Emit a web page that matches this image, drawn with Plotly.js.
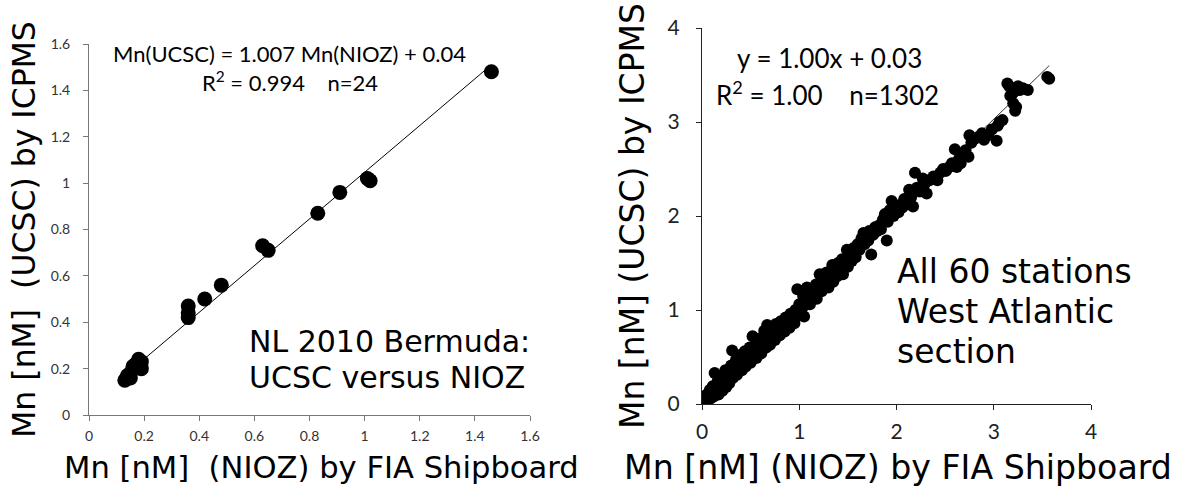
<!DOCTYPE html>
<html>
<head>
<meta charset="utf-8">
<script src="https://cdn.plot.ly/plotly-3.0.1.min.js"></script>
<style>html,body{margin:0;padding:0;background:#fff;}#chart{width:1177px;height:493px;}</style>
</head>
<body>
<div id="chart"></div>
<script>
// ---------- Left panel: NL 2010 Bermuda (n=24) ----------
const leftX = [1.46, 1.01, 1.02, 0.91, 0.83, 0.63, 0.65, 0.48, 0.42, 0.36, 0.36, 0.36,
               0.13, 0.14, 0.14, 0.15, 0.15, 0.16, 0.16, 0.17, 0.18, 0.19, 0.19, 0.18];
const leftY = [1.48, 1.02, 1.01, 0.96, 0.87, 0.73, 0.71, 0.56, 0.50, 0.47, 0.44, 0.42,
               0.15, 0.16, 0.17, 0.18, 0.16, 0.20, 0.21, 0.22, 0.21, 0.23, 0.20, 0.24];
const leftSlope = 1.007, leftIntercept = 0.04;
const leftTicks = [0, 0.2, 0.4, 0.6, 0.8, 1, 1.2, 1.4, 1.6];

// ---------- Right panel: all 60 stations West Atlantic (n=1302, traced) ----------
const rightX = [0.02,0.04,0.05,0.06,0.08,0.09,0.11,0.12,0.13,0.14,0.16,0.17,0.19,0.20,0.21,0.23,0.24,0.25,0.27,0.28,
  0.30,0.31,0.32,0.34,0.35,0.36,0.38,0.39,0.41,0.43,0.44,0.45,0.47,0.49,0.50,0.52,0.53,0.55,0.56,0.58,
  0.60,0.61,0.63,0.64,0.66,0.67,0.68,0.70,0.71,0.73,0.75,0.76,0.78,0.80,0.81,0.83,0.85,0.86,0.88,0.90,
  0.91,0.93,0.95,0.96,0.98,0.99,1.00,1.02,1.04,1.05,1.06,1.08,1.09,1.11,1.13,1.15,1.17,1.18,1.20,1.21,
  1.23,1.25,1.27,1.28,1.30,1.32,1.34,1.35,1.37,1.39,1.40,1.42,1.44,1.45,1.47,1.49,1.50,1.52,1.54,1.56,
  1.58,1.60,1.62,1.64,1.66,1.67,1.69,1.71,1.72,1.74,1.76,1.78,1.80,1.82,1.84,1.86,1.88,1.90,1.91,1.93,
  1.95,1.97,1.99,2.02,2.04,2.06,2.08,2.11,2.13,2.15,2.17,2.19,2.21,2.24,2.27,2.29,2.31,2.34,2.38,2.42,
  2.45,2.48,2.51,2.54,2.57,2.60,2.62,2.64,2.66,2.68,2.71,2.74,2.75,2.77,2.80,2.84,2.88,2.90,2.94,2.98,
  3.03,3.04,3.06,3.09,3.14,3.16,3.17,3.19,3.20,3.22,3.23,3.25,3.27,3.30,3.35,3.55,3.57];
const rightY = [0.03,0.02,0.10,0.04,0.15,0.06,0.19,0.08,0.33,0.14,0.24,0.10,0.20,0.28,0.14,0.24,0.36,0.18,0.30,0.22,
  0.41,0.57,0.28,0.38,0.47,0.31,0.42,0.52,0.36,0.47,0.56,0.40,0.52,0.60,0.44,0.72,0.55,0.63,0.49,0.60,
  0.70,0.54,0.66,0.78,0.60,0.84,0.71,0.63,0.80,0.74,0.68,0.85,0.78,0.73,0.88,0.82,0.77,0.92,0.86,0.81,
  0.96,0.91,0.86,1.00,1.22,0.94,1.06,0.99,1.15,0.93,1.05,1.24,1.12,1.06,1.20,1.14,1.27,1.12,1.24,1.38,
  1.20,1.31,1.26,1.40,1.24,1.36,1.48,1.30,1.42,1.36,1.50,1.41,1.54,1.38,1.50,1.64,1.46,1.58,1.52,1.66,
  1.56,1.70,1.64,1.76,1.82,1.70,1.78,1.74,1.84,1.59,1.80,1.88,1.84,1.90,1.86,1.96,2.02,1.74,1.94,2.06,
  2.16,2.00,2.10,2.04,2.12,2.09,2.18,2.14,2.28,2.20,2.10,2.46,2.30,2.26,2.40,2.34,2.24,2.38,2.42,2.38,
  2.46,2.50,2.48,2.52,2.56,2.71,2.52,2.60,2.56,2.66,2.70,2.63,2.86,2.78,2.82,2.84,2.88,2.81,2.86,2.92,
  2.80,2.96,3.00,3.02,3.41,3.38,3.28,3.30,3.20,3.12,3.16,3.38,3.34,3.36,3.34,3.48,3.46];
const rightSlope = 1.00, rightIntercept = 0.03;
const rightTicks = [0, 1, 2, 3, 4];

function fitLine(xs, m, b) {
  const lo = Math.min(...xs), hi = Math.max(...xs);
  return {x: [lo, hi], y: [m * lo + b, m * hi + b]};
}
const lf = fitLine(leftX, leftSlope, leftIntercept);
const rf = fitLine(rightX, rightSlope, rightIntercept);

const data = [
  {x: lf.x, y: lf.y, type: 'scatter', mode: 'lines', line: {color: '#000', width: 1}, xaxis: 'x', yaxis: 'y', hoverinfo: 'skip'},
  {x: leftX, y: leftY, type: 'scatter', mode: 'markers', marker: {color: '#000', size: 15}, xaxis: 'x', yaxis: 'y'},
  {x: rf.x, y: rf.y, type: 'scatter', mode: 'lines', line: {color: '#333', width: 1}, xaxis: 'x2', yaxis: 'y2', hoverinfo: 'skip'},
  {x: rightX, y: rightY, type: 'scatter', mode: 'markers', marker: {color: '#000', size: 12}, xaxis: 'x2', yaxis: 'y2'}
];

const bigFont = 'DejaVu Sans, sans-serif';
const smallFont = 'Lato, Carlito, sans-serif';
function axisBase(ticks, tickSize, tickColor, lineColor, standoff) {
  return {
    showgrid: false, zeroline: false, showline: true, linecolor: lineColor, linewidth: 1,
    ticks: 'outside', ticklen: 5, tickcolor: lineColor, tickwidth: 1,
    tickmode: 'array', tickvals: ticks, ticktext: ticks.map(String),
    tickfont: {family: smallFont, size: tickSize, color: tickColor},
    ticklabelstandoff: standoff,
    automargin: false, fixedrange: true
  };
}

const layout = {
  width: 1177, height: 493,
  margin: {l: 0, r: 0, t: 0, b: 0},
  paper_bgcolor: '#fff', plot_bgcolor: '#fff',
  showlegend: false,
  xaxis: Object.assign(axisBase(leftTicks, 14, '#333', '#777', 3), {
    domain: [89/1177, 530/1177], range: [0, 1.6], anchor: 'y'
  }),
  yaxis: Object.assign(axisBase(leftTicks, 14, '#333', '#777', 10), {
    domain: [(493-415)/493, (493-44)/493], range: [0, 1.6], anchor: 'x',
    title: {text: 'Mn [nM]\u00a0 (UCSC) by ICPMS', font: {family: bigFont, size: 31.5, color: '#000'}, standoff: 5}
  }),
  xaxis2: Object.assign(axisBase(rightTicks, 21, '#222', '#222', 4), {
    domain: [702/1177, 1091/1177], range: [0, 4], anchor: 'y2'
  }),
  yaxis2: Object.assign(axisBase(rightTicks, 21, '#222', '#222', 12), {
    domain: [(493-404)/493, (493-28)/493], range: [0, 4], anchor: 'x2',
    title: {text: 'Mn [nM] (UCSC) by ICPMS', font: {family: bigFont, size: 33, color: '#000'}, standoff: 13}
  }),
  annotations: [
    // x-axis titles
    {xref: 'paper', yref: 'paper', x: 321/1177, y: 1 - 467/493, text: 'Mn [nM]\u00a0 (NIOZ) by FIA Shipboard', showarrow: false, xanchor: 'center', yanchor: 'middle', font: {family: bigFont, size: 30.6, color: '#000'}},
    {xref: 'paper', yref: 'paper', x: 898/1177, y: 1 - 467/493, text: 'Mn [nM] (NIOZ) by FIA Shipboard', showarrow: false, xanchor: 'center', yanchor: 'middle', font: {family: bigFont, size: 33.2, color: '#000'}},
    // left panel text
    {xref: 'paper', yref: 'paper', x: 289/1177, y: 1 - 53/493, text: 'Mn(UCSC) = 1.007 Mn(NIOZ) + 0.04', showarrow: false, xanchor: 'center', yanchor: 'middle', font: {family: smallFont, size: 22, color: '#000'}},
    {xref: 'paper', yref: 'paper', x: 290/1177, y: 1 - 81/493, text: 'R<sup>2</sup> = 0.994\u00a0\u00a0\u00a0 n=24', showarrow: false, xanchor: 'center', yanchor: 'middle', font: {family: smallFont, size: 22, color: '#000'}},
    {xref: 'paper', yref: 'paper', x: 247/1177, y: 1 - 341/493, text: 'NL 2010 Bermuda:', showarrow: false, xanchor: 'left', yanchor: 'middle', font: {family: bigFont, size: 30, color: '#000'}},
    {xref: 'paper', yref: 'paper', x: 247/1177, y: 1 - 377/493, text: 'UCSC versus NIOZ', showarrow: false, xanchor: 'left', yanchor: 'middle', font: {family: bigFont, size: 30, color: '#000'}},
    // right panel text
    {xref: 'paper', yref: 'paper', x: 829/1177, y: 1 - 58/493, text: 'y = 1.00x + 0.03', showarrow: false, xanchor: 'center', yanchor: 'middle', font: {family: smallFont, size: 26, color: '#000'}},
    {xref: 'paper', yref: 'paper', x: 828/1177, y: 1 - 93/493, text: 'R<sup>2</sup> = 1.00\u00a0\u00a0\u00a0 n=1302', showarrow: false, xanchor: 'center', yanchor: 'middle', font: {family: smallFont, size: 26, color: '#000'}},
    {xref: 'paper', yref: 'paper', x: 895/1177, y: 1 - 271/493, text: 'All 60 stations', showarrow: false, xanchor: 'left', yanchor: 'middle', font: {family: bigFont, size: 33, color: '#000'}},
    {xref: 'paper', yref: 'paper', x: 895/1177, y: 1 - 311/493, text: 'West Atlantic', showarrow: false, xanchor: 'left', yanchor: 'middle', font: {family: bigFont, size: 33, color: '#000'}},
    {xref: 'paper', yref: 'paper', x: 895/1177, y: 1 - 351/493, text: 'section', showarrow: false, xanchor: 'left', yanchor: 'middle', font: {family: bigFont, size: 33, color: '#000'}}
  ]
};

Plotly.newPlot('chart', data, layout, {displayModeBar: false, staticPlot: true});
</script>
</body>
</html>
